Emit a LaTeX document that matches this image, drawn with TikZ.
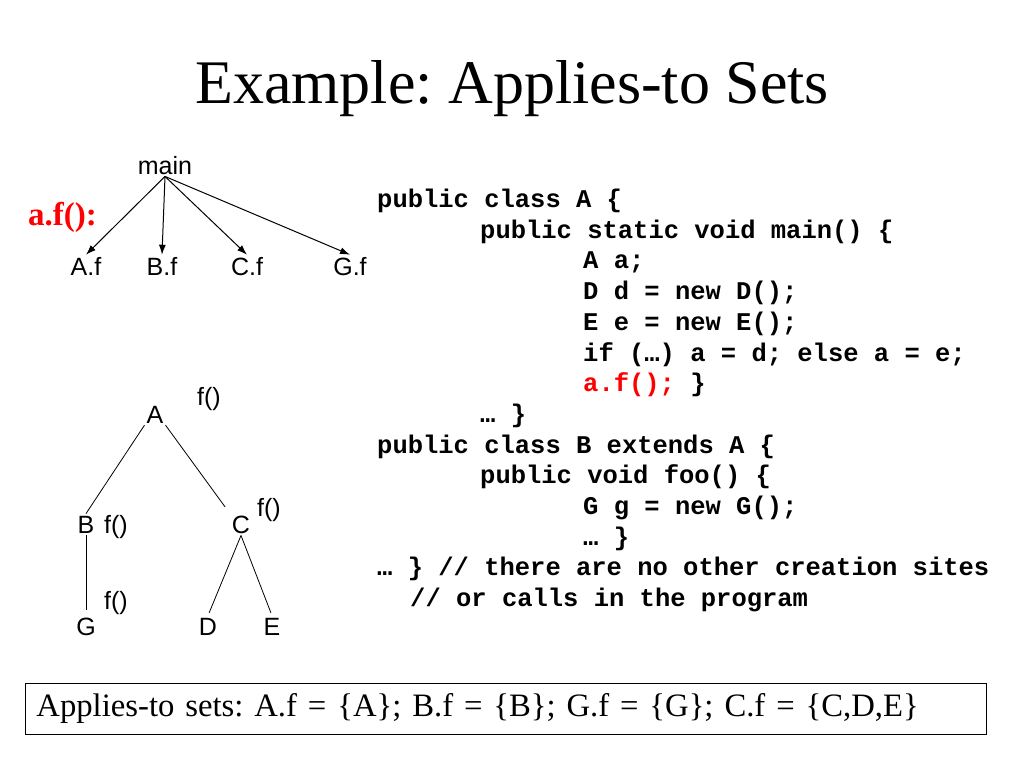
\documentclass[tikz,border=0pt]{standalone}
\usepackage{fontspec}
\setmainfont{Liberation Serif}
\newfontfamily\labelfont{Liberation Sans}
\newfontfamily\codefont{Liberation Mono}
\usetikzlibrary{positioning,arrows.meta}
\frenchspacing

\begin{document}
\begin{tikzpicture}[x=1pt,y=-1pt,
  lbl/.style={font=\labelfont\fontsize{25}{30}\selectfont, inner sep=2pt, anchor=base},
  code/.style={font=\codefont\bfseries\fontsize{25.5}{30}\selectfont, inner sep=0pt, anchor=base west},
  edge/.style={line width=0.8pt},
  call/.style={line width=1pt, -{Latex[length=10pt,width=7pt]}}]
\useasboundingbox (0,0) rectangle (1024,768);
% title
\node[font=\fontsize{62}{70}\selectfont, anchor=base] (title) at (512,103) {Example: Applies-to Sets};
% call graph
\node[font=\bfseries\fontsize{33}{38}\selectfont, text=red, anchor=base west, inner sep=0pt] (site) at (28,225) {a.f():};
\node[lbl] (main) at (165,174) {main};
\node[lbl] (af) at (86,275) {A.f};
\node[lbl] (bf) at (162,275) {B.f};
\node[lbl] (cf) at (247,275) {C.f};
\node[lbl] (gf) at (350,275) {G.f};
\draw[call] (main.south) -- (af.north);
\draw[call] (main.south) -- (bf.north);
\draw[call] (main.south) -- (cf.north);
\draw[call] (main.south) -- (gf.north);
% class hierarchy
\node[lbl] (A) at (155,423) {A};
\node[lbl] (B) at (86,533) {B};
\node[lbl] (C) at (241,533) {C};
\node[lbl] (G) at (86,635) {G};
\node[lbl] (D) at (208,635) {D};
\node[lbl] (E) at (272,635) {E};
\node[lbl] (fA) at (209,405) {f()};
\node[lbl] (fB) at (116,533) {f()};
\node[lbl] (fC) at (269,516) {f()};
\node[lbl] (fG) at (116,609) {f()};
\draw[edge] (A.south west) -- (B.north);
\draw[edge, shorten >=8pt] (A.south east) -- (C.north west);
\draw[edge, shorten >=5pt] (B.south) -- (G.north);
\draw[edge, shorten >=3pt] (C.south) -- (D.north);
\draw[edge, shorten >=3pt] (C.south) -- (E.north);
% program text
\node[code] (l1) at (377,207) {public class A \{};
\node[code] (l2) at (480,238) {public static void main() \{};
\node[code] (l3) at (583,268) {A a;};
\node[code] (l4) at (583,299) {D d = new D();};
\node[code] (l5) at (583,330) {E e = new E();};
\node[code] (l6) at (583,361) {if (…) a = d; else a = e;};
\node[code] (l7) at (583,391) {\textcolor{red}{a.f();} \}};
\node[code] (l8) at (480,422) {… \}};
\node[code] (l9) at (377,453) {public class B extends A \{};
\node[code] (l10) at (480,483) {public void foo() \{};
\node[code] (l11) at (583,514) {G g = new G();};
\node[code] (l12) at (583,545) {… \}};
\node[code] (l13) at (377,575) {… \} // there are no other creation sites};
\node[code] (l14) at (410,606) {// or calls in the program};
% applies-to sets
\node[draw, line width=0.8pt, anchor=north west, minimum width=961pt, minimum height=51pt,
  inner xsep=11pt, text width=939pt, align=left, font=\fontsize{32.7}{40}\selectfont] (sets) at (25,683)
  {Applies-to sets: A.f = \{A\}; B.f = \{B\}; G.f = \{G\}; C.f = \{C,D,E\}};
\end{tikzpicture}
\end{document}
